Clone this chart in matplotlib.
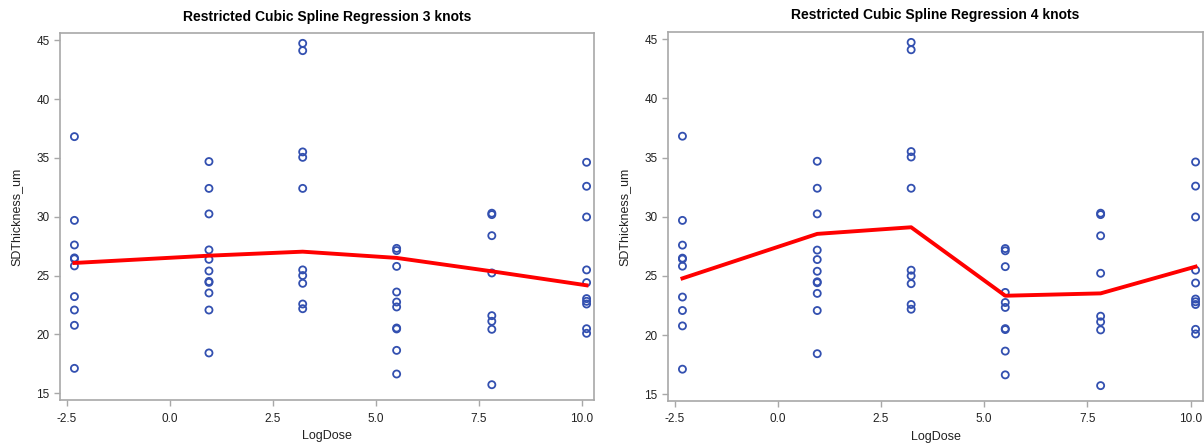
import matplotlib
matplotlib.use("Agg")
import matplotlib.pyplot as plt

plt.rcParams['font.family'] = ['Liberation Sans', 'DejaVu Sans']

log_dose = [-2.31, 0.955, 3.23, 5.51, 7.82, 10.12]

thickness = [
    [36.81, 29.69, 27.60, 26.50, 26.42, 25.82, 23.21, 22.07, 20.77, 17.11],
    [34.69, 32.41, 30.24, 27.18, 26.38, 25.39, 24.50, 24.42, 23.52, 22.07, 18.42],
    [44.74, 44.12, 35.51, 35.05, 32.41, 25.48, 25.00, 24.34, 22.58, 22.18],
    [27.31, 27.12, 25.78, 23.60, 22.75, 22.33, 20.54, 20.46, 18.64, 16.63],
    [30.30, 30.18, 28.39, 25.22, 21.59, 21.11, 20.43, 15.72],
    [34.63, 32.59, 29.98, 25.48, 24.40, 23.04, 22.81, 22.58, 20.48, 20.09],
]

fit_3knots = [26.07, 26.69, 27.03, 26.50, 25.36, 24.17]
fit_4knots = [24.79, 28.55, 29.11, 23.32, 23.52, 25.78]

titles = ["Restricted Cubic Spline Regression 3 knots",
          "Restricted Cubic Spline Regression 4 knots"]
fits = [fit_3knots, fit_4knots]

xs = []
ys = []
for xv, col in zip(log_dose, thickness):
    xs.extend([xv] * len(col))
    ys.extend(col)

fig = plt.figure(figsize=(12.04, 4.45), dpi=100)
positions = [
    [60 / 1204, 1 - 400 / 445, (594 - 60) / 1204, (400 - 33) / 445],
    [668 / 1204, 1 - 401 / 445, (1203 - 668) / 1204, (401 - 32) / 445],
]

frame_color = '#A8A8A8'
for pos, title, fit in zip(positions, titles, fits):
    ax = fig.add_axes(pos)
    ax.scatter(xs, ys, s=26, facecolors='none', edgecolors='#3350B0',
               linewidths=1.3, zorder=3)
    ax.plot(log_dose, fit, color='#FF0000', linewidth=2.8, zorder=4)
    ax.set_xlim(-2.66, 10.30)
    ax.set_ylim(14.42, 45.62)
    ax.set_xticks([-2.5, 0.0, 2.5, 5.0, 7.5, 10.0])
    ax.set_xticklabels(['-2.5', '0.0', '2.5', '5.0', '7.5', '10.0'])
    ax.set_yticks([15, 20, 25, 30, 35, 40, 45])
    for sp in ax.spines.values():
        sp.set_color(frame_color)
        sp.set_linewidth(1.2)
    ax.tick_params(axis='both', colors=frame_color, length=4, width=1,
                   labelcolor='#222222', labelsize=8.5)
    ax.tick_params(axis='x', pad=5)
    ax.set_xlabel('LogDose', fontsize=9, color='#222222', labelpad=4)
    ax.set_ylabel('SDThickness_um', fontsize=9, color='#222222', labelpad=10)
    ax.set_title(title, fontsize=10, fontweight='bold', color='#000000', pad=9)

fig.savefig('out.png', dpi=100)
